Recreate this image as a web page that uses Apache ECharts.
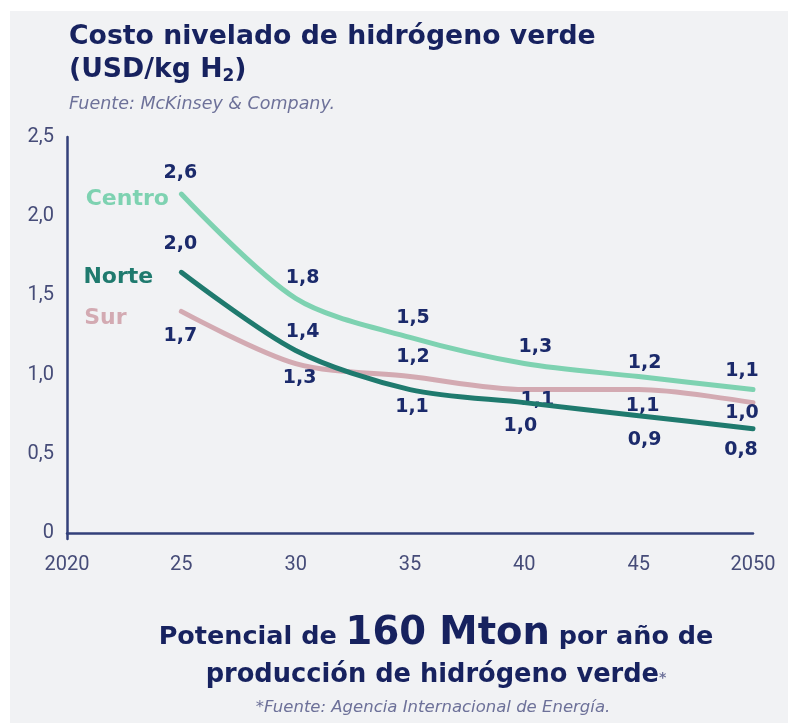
<!DOCTYPE html>
<html>
<head>
<meta charset="utf-8">
<script src="https://cdn.jsdelivr.net/npm/echarts@6/dist/echarts.min.js"></script>
<style>
  html, body { margin: 0; padding: 0; background: #ffffff; }
  #chart { width: 788px; height: 723px; }
</style>
</head>
<body>
<div id="chart"></div>
<script>
// Years on the horizontal axis
const years = ['2020', '25', '30', '35', '40', '45', '2050'];

// Levelized cost of green hydrogen (USD/kg H2), 2025 to 2050
const centro = [2.6, 1.8, 1.5, 1.3, 1.2, 1.1];
const norte  = [2.0, 1.4, 1.1, 1.0, 0.9, 0.8];
const sur    = [1.7, 1.3, 1.2, 1.1, 1.1, 1.0];

// Region names
const seriesNames = ['Centro', 'Norte', 'Sur'];

// Tick labels of the vertical axis
const yTickLabels = ['0', '0,5', '1,0', '1,5', '2,0', '2,5'];

// The printed scale is compressed relative to the stated values
const SCALE = 0.823;
const yTickValues = yTickLabels.map(t => parseFloat(t.replace(',', '.')) / SCALE);
const yMax = yTickValues[yTickValues.length - 1];

const NAVY = '#17225f';
const LABEL_NAVY = '#1b2a6b';
const AXIS = '#33407a';
const colors = { Centro: '#7ed2b1', Norte: '#1f7a6e', Sur: '#d3aab2' };

const fmt = v => v.toFixed(1).replace('.', ',');

// Per-point label displacement from each point
const labelOffsets = {
  Centro: [[-1, -21], [7, -20], [3, -19], [11, -16], [6, -14], [-11, -19]],
  Norte:  [[-1, -28], [7, -18], [2, 17], [-4, 23], [6, 24], [-12, 21]],
  Sur:    [[-1, 25], [4, 15], [3, -20], [13, 10], [4, 16], [-11, 10]]
};
const nameOffsets = { Centro: [-54, 5], Norte: [-63, 5], Sur: [-76, 7] };

function buildSeries(name, values) {
  const data = [null].concat(values.map((v, i) => ({
    value: v,
    label: { offset: labelOffsets[name][i] }
  })));
  return {
    name: name,
    type: 'line',
    data: data,
    smooth: 0.3,
    symbol: 'circle',
    symbolSize: 0,
    lineStyle: { color: colors[name], width: 5, cap: 'round' },
    itemStyle: { color: colors[name] },
    label: {
      show: true,
      position: 'inside',
      formatter: p => fmt(p.value),
      color: LABEL_NAVY,
      fontFamily: 'DejaVu Sans',
      fontWeight: 'bold',
      fontSize: 19
    },
    markPoint: {
      symbol: 'circle',
      symbolSize: 0,
      silent: true,
      data: [{ coord: [1, values[0]] }],
      label: {
        show: true,
        position: 'inside',
        offset: nameOffsets[name],
        formatter: name,
        color: colors[name],
        fontFamily: 'DejaVu Sans',
        fontWeight: 'bold',
        fontSize: 22
      }
    },
    z: name === 'Centro' ? 3 : (name === 'Norte' ? 4 : 2)
  };
}

const chart = echarts.init(document.getElementById('chart'), null, { renderer: 'canvas' });

chart.setOption({
  animation: false,
  backgroundColor: '#ffffff',
  grid: { left: 67, right: 35, top: 137, bottom: 184, containLabel: false },
  xAxis: {
    type: 'category',
    data: years,
    boundaryGap: false,
    axisLine: { show: true, lineStyle: { color: AXIS, width: 2.5 } },
    axisTick: { show: false },
    axisLabel: {
      color: '#464c78',
      fontFamily: 'Roboto',
      fontSize: 20,
      margin: 16,
      interval: 0
    },
    splitLine: { show: false }
  },
  yAxis: {
    type: 'value',
    min: -0.046,
    max: yMax,
    axisLine: { show: true, lineStyle: { color: AXIS, width: 2.5 } },
    axisTick: { show: false },
    splitLine: { show: false },
    axisLabel: {
      customValues: yTickValues,
      color: '#464c78',
      fontFamily: 'Roboto',
      fontSize: 20,
      margin: 13,
      formatter: v => {
        let best = 0;
        yTickValues.forEach((t, i) => {
          if (Math.abs(t - v) < Math.abs(yTickValues[best] - v)) best = i;
        });
        return yTickLabels[best];
      }
    }
  },
  graphic: [
    {
      type: 'rect',
      z: -10,
      shape: { x: 10, y: 11, width: 778, height: 712 },
      style: { fill: '#f1f2f4' }
    },
    {
      type: 'text',
      x: 69, y: 37,
      style: {
        text: 'Costo nivelado de hidrógeno verde',
        fill: NAVY,
        font: 'bold 26.7px "DejaVu Sans"',
        verticalAlign: 'middle'
      }
    },
    {
      type: 'text',
      x: 69, y: 70,
      style: {
        text: '{m|(USD/kg H}{s|2}{m|)}',
        verticalAlign: 'middle',
        rich: {
          m: { fill: NAVY, font: 'bold 26.7px "DejaVu Sans"' },
          s: { fill: NAVY, font: 'bold 17px "DejaVu Sans"', padding: [14, 0, 0, 0] }
        }
      }
    },
    {
      type: 'text',
      x: 69, y: 104,
      style: {
        text: 'Fuente: McKinsey & Company.',
        fill: '#6d7199',
        font: 'italic 17.5px "DejaVu Sans"',
        verticalAlign: 'middle'
      }
    },
    {
      type: 'text',
      x: 436, y: 634,
      style: {
        text: '{a|Potencial de }{b|160 Mton}{a| por año de}',
        align: 'center',
        verticalAlign: 'middle',
        rich: {
          a: { fill: NAVY, font: 'bold 25.5px "DejaVu Sans"', padding: [6, 0, 0, 0] },
          b: { fill: NAVY, font: 'bold 38.5px "DejaVu Sans"' }
        }
      }
    },
    {
      type: 'text',
      x: 436, y: 675,
      style: {
        text: '{a|producción de hidrógeno verde}{s|*}',
        align: 'center',
        verticalAlign: 'middle',
        rich: {
          a: { fill: NAVY, font: 'bold 25.7px "DejaVu Sans"' },
          s: { fill: '#6d7199', font: 'bold 14px "DejaVu Sans"', padding: [6, 0, 0, 0] }
        }
      }
    },
    {
      type: 'text',
      x: 433, y: 708,
      style: {
        text: '*Fuente: Agencia Internacional de Energía.',
        fill: '#6d7199',
        font: 'italic 16.5px "DejaVu Sans"',
        align: 'center',
        verticalAlign: 'middle'
      }
    }
  ],
  series: [
    buildSeries('Sur', sur),
    buildSeries('Centro', centro),
    buildSeries('Norte', norte)
  ]
});
</script>
</body>
</html>
